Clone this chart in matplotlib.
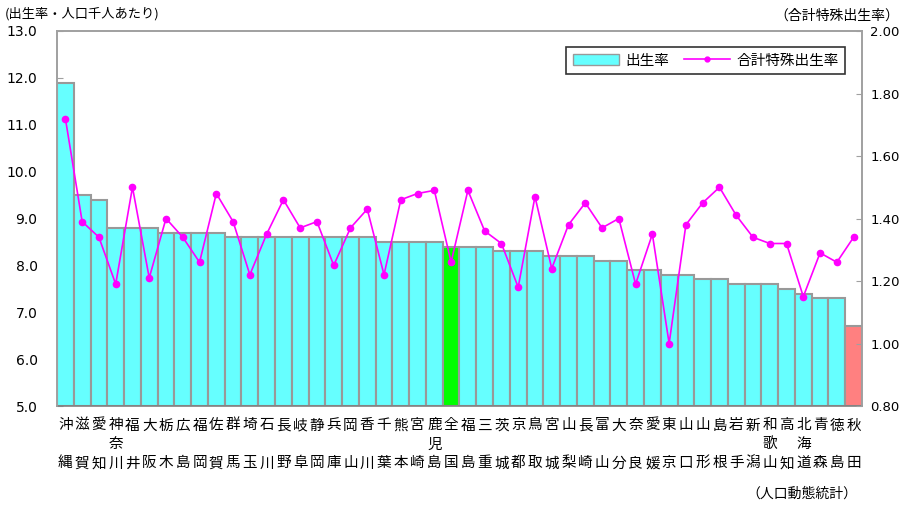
import matplotlib
matplotlib.use("Agg")
import matplotlib.pyplot as plt
from matplotlib.patches import Patch
from matplotlib.lines import Line2D

plt.rcParams['font.family'] = ['Noto Sans CJK JP', 'DejaVu Sans']

# Prefectures ordered by crude birth rate (descending); 全国 = national average
prefectures = [
    "沖縄", "滋賀", "愛知", "神奈川", "福井", "大阪", "栃木", "広島", "福岡", "佐賀",
    "群馬", "埼玉", "石川", "長野", "岐阜", "静岡", "兵庫", "岡山", "香川", "千葉",
    "熊本", "宮崎", "鹿児島", "全国", "福島", "三重", "茨城", "京都", "鳥取", "宮城",
    "山梨", "長崎", "富山", "大分", "奈良", "愛媛", "東京", "山口", "山形", "島根",
    "岩手", "新潟", "和歌山", "高知", "北海道", "青森", "徳島", "秋田",
]

# 出生率 (births per 1,000 population)
birth_rate = [
    11.9, 9.5, 9.4, 8.8, 8.8, 8.8, 8.7, 8.7, 8.7, 8.7,
    8.6, 8.6, 8.6, 8.6, 8.6, 8.6, 8.6, 8.6, 8.6, 8.5,
    8.5, 8.5, 8.5, 8.4, 8.4, 8.4, 8.3, 8.3, 8.3, 8.2,
    8.2, 8.2, 8.1, 8.1, 7.9, 7.9, 7.8, 7.8, 7.7, 7.7,
    7.6, 7.6, 7.6, 7.5, 7.4, 7.3, 7.3, 6.7,
]

# 合計特殊出生率 (total fertility rate)
tfr = [
    1.72, 1.39, 1.34, 1.19, 1.50, 1.21, 1.40, 1.34, 1.26, 1.48,
    1.39, 1.22, 1.35, 1.46, 1.37, 1.39, 1.25, 1.37, 1.43, 1.22,
    1.46, 1.48, 1.49, 1.26, 1.49, 1.36, 1.32, 1.18, 1.47, 1.24,
    1.38, 1.45, 1.37, 1.40, 1.19, 1.35, 1.00, 1.38, 1.45, 1.50,
    1.41, 1.34, 1.32, 1.32, 1.15, 1.29, 1.26, 1.34,
]

left_ticks = [5.0, 6.0, 7.0, 8.0, 9.0, 10.0, 11.0, 12.0, 13.0]
right_ticks = [0.80, 1.00, 1.20, 1.40, 1.60, 1.80, 2.00]

CYAN = "#66FFFF"
GREEN = "#00FF00"
PINK = "#FF8080"
EDGE = "#999999"
MAGENTA = "#FF00FF"
AXIS_GRAY = "#A0A0A0"


def bar_color(name, idx, n):
    if name == "全国":
        return GREEN
    if idx == n - 1:
        return PINK
    return CYAN


def vertical_label(name):
    chars = list(name)
    if len(chars) == 2:
        chars = [chars[0], "　", chars[1]]
    return "\n".join(chars)


fig = plt.figure(figsize=(9.03, 5.05), dpi=100)
ax = fig.add_axes([57 / 903, 1 - 406 / 505, (862 - 57) / 903, (406 - 31) / 505])

n = len(prefectures)
x = list(range(n))
colors = [bar_color(p, i, n) for i, p in enumerate(prefectures)]
bottom = left_ticks[0]
ax.bar(x, [v - bottom for v in birth_rate], bottom=bottom, width=1.0,
       color=colors, edgecolor=EDGE, linewidth=1.5, zorder=2)

ax.set_xlim(-0.5, n - 0.5)
ax.set_ylim(left_ticks[0], left_ticks[-1])
ax.set_yticks(left_ticks)
ax.set_yticklabels([f"{t:.1f}" for t in left_ticks], fontsize=10,
                   family=['DejaVu Sans'])
ax.set_xticks(x)
ax.set_xticklabels([vertical_label(p) for p in prefectures], fontsize=10.5,
                   linespacing=1.45, va="top")
ax.tick_params(axis="x", length=0, pad=9)
ax.tick_params(axis="y", direction="in", length=4, color=AXIS_GRAY, pad=14)

ax2 = ax.twinx()
ax2.plot(x, tfr, color=MAGENTA, linewidth=1.2, marker="o", markersize=4.5,
         zorder=3)
ax2.set_ylim(right_ticks[0], right_ticks[-1])
ax2.set_yticks(right_ticks)
ax2.set_yticklabels([f"{t:.2f}" for t in right_ticks], fontsize=9.5,
                    family=['DejaVu Sans'])
ax2.tick_params(axis="y", direction="in", length=4, color=AXIS_GRAY, pad=6)

for a in (ax, ax2):
    for s in a.spines.values():
        s.set_color(AXIS_GRAY)
        s.set_linewidth(1.2)
ax2.spines["bottom"].set_visible(False)
ax.spines["bottom"].set_color("#808080")

handles = [
    Patch(facecolor=CYAN, edgecolor=EDGE, linewidth=1.0),
    Line2D([0], [0], color=MAGENTA, linewidth=1.2, marker="o", markersize=3.5),
]
leg = ax2.legend(handles, ["出生率", "合計特殊出生率"], loc="upper right",
                 bbox_to_anchor=(845 / 903, 1 - 47 / 505),
                 bbox_transform=fig.transFigure, ncol=2, fontsize=10.5,
                 frameon=True, fancybox=False, edgecolor="black",
                 handlelength=3.2, handletextpad=0.4, columnspacing=1.0,
                 borderpad=0.45, borderaxespad=0)
leg.get_frame().set_linewidth(1.2)

fig.text(5 / 903, 1 - 14 / 505, "(出生率・人口千人あたり)", fontsize=9.5,
         va="center", ha="left")
fig.text(899 / 903, 1 - 16 / 505, "（合計特殊出生率）", fontsize=10,
         va="center", ha="right")
fig.text(857 / 903, 1 - 494 / 505, "（人口動態統計）", fontsize=10,
         va="center", ha="right")

fig.savefig("out.png", dpi=100, facecolor="white")
